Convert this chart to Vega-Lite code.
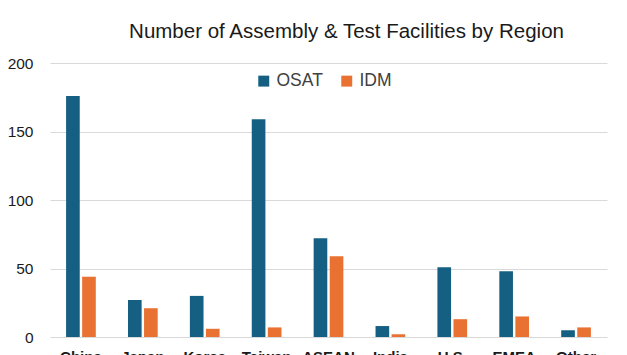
{
  "$schema": "https://vega.github.io/schema/vega-lite/v6.json",
  "autosize": {"type": "none"},
  "width": 557,
  "height": 274,
  "padding": {"left": 50, "top": 63, "right": 20, "bottom": 18},
  "background": "white",
  "title": {
    "text": "Number of Assembly & Test Facilities by Region",
    "font": "Liberation Sans",
    "fontSize": 20.5,
    "fontWeight": "normal",
    "color": "#1a1a1a",
    "anchor": "middle",
    "dx": 18,
    "offset": 14
  },
  "data": {
    "values": [
      {"region": "China", "type": "OSAT", "count": 176},
      {"region": "China", "type": "IDM", "count": 44},
      {"region": "Japan", "type": "OSAT", "count": 27},
      {"region": "Japan", "type": "IDM", "count": 21},
      {"region": "Korea", "type": "OSAT", "count": 30},
      {"region": "Korea", "type": "IDM", "count": 6},
      {"region": "Taiwan", "type": "OSAT", "count": 159},
      {"region": "Taiwan", "type": "IDM", "count": 7},
      {"region": "ASEAN", "type": "OSAT", "count": 72},
      {"region": "ASEAN", "type": "IDM", "count": 59},
      {"region": "India", "type": "OSAT", "count": 8},
      {"region": "India", "type": "IDM", "count": 2},
      {"region": "U.S.", "type": "OSAT", "count": 51},
      {"region": "U.S.", "type": "IDM", "count": 13},
      {"region": "EMEA", "type": "OSAT", "count": 48},
      {"region": "EMEA", "type": "IDM", "count": 15},
      {"region": "Other", "type": "OSAT", "count": 5},
      {"region": "Other", "type": "IDM", "count": 7}
    ]
  },
  "mark": {"type": "bar"},
  "encoding": {
    "x": {
      "field": "region",
      "type": "nominal",
      "sort": null,
      "scale": {"paddingInner": 0.52, "paddingOuter": 0.26},
      "axis": {
        "title": null,
        "labelAngle": 0,
        "labelFont": "Liberation Sans",
        "labelFontSize": 15,
        "labelFontWeight": "bold",
        "labelColor": "#1a1a1a",
        "labelPadding": 12,
        "ticks": false,
        "domain": false
      }
    },
    "xOffset": {
      "field": "type",
      "type": "nominal",
      "sort": ["OSAT", "IDM"],
      "scale": {"paddingInner": 0.15}
    },
    "y": {
      "field": "count",
      "type": "quantitative",
      "scale": {"domain": [0, 200]},
      "axis": {
        "title": null,
        "values": [0, 50, 100, 150, 200],
        "labelFont": "Liberation Sans",
        "labelFontSize": 15.5,
        "labelColor": "#1a1a1a",
        "labelPadding": 17,
        "ticks": false,
        "domain": false,
        "gridColor": "#d9d9d9",
        "gridWidth": 1
      }
    },
    "color": {
      "field": "type",
      "type": "nominal",
      "sort": ["OSAT", "IDM"],
      "scale": {"domain": ["OSAT", "IDM"], "range": ["#156082", "#e97132"]},
      "legend": {
        "title": null,
        "orient": "none",
        "direction": "horizontal",
        "legendX": 205,
        "legendY": 9,
        "symbolType": "square",
        "symbolSize": 120,
        "symbolStrokeWidth": 0,
        "labelFont": "Liberation Sans",
        "labelFontSize": 17.5,
        "labelColor": "#404040",
        "labelOffset": 4,
        "columnPadding": 15
      }
    }
  },
  "config": {"view": {"stroke": null}}
}
